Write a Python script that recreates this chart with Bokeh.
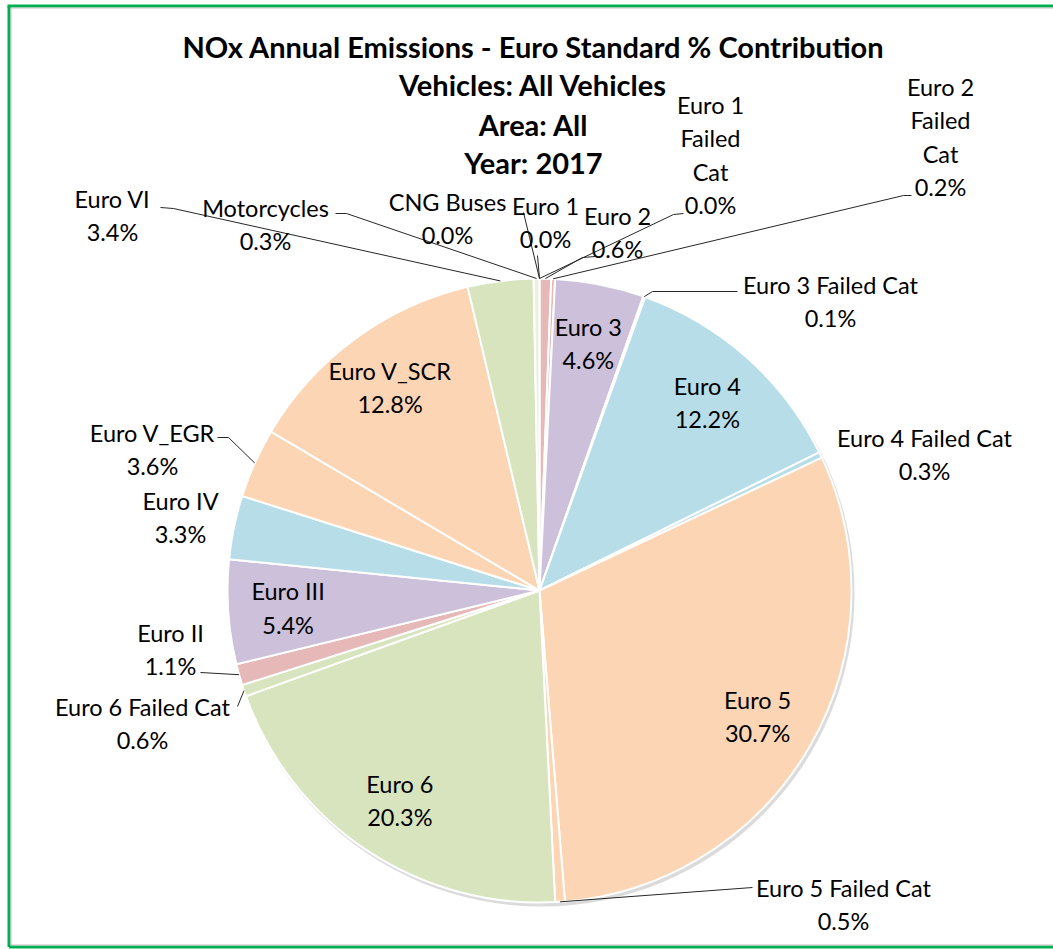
import math
from bokeh.plotting import figure
from bokeh.models import Range1d, ColumnDataSource
from bokeh.core.properties import value
from bokeh.embed import file_html
from bokeh.resources import INLINE

# ---------------- data ----------------
title_lines = ["NOx Annual Emissions - Euro Standard % Contribution",
               "Vehicles: All Vehicles", "Area: All", "Year: 2017"]
categories = ["Euro 1", "Euro 1 Failed Cat", "Euro 2", "Euro 2 Failed Cat", "Euro 3",
              "Euro 3 Failed Cat", "Euro 4", "Euro 4 Failed Cat", "Euro 5", "Euro 5 Failed Cat",
              "Euro 6", "Euro 6 Failed Cat", "Euro II", "Euro III", "Euro IV", "Euro V_EGR",
              "Euro V_SCR", "Euro VI", "Motorcycles", "CNG Buses"]
shares = [0.0, 0.0, 0.6, 0.2, 4.6, 0.1, 12.2, 0.3, 30.7, 0.5,
          20.3, 0.6, 1.1, 5.4, 3.3, 3.6, 12.8, 3.4, 0.3, 0.0]

# ---------------- style / layout ----------------
PINK, LAV, AQUA, PEACH, GREEN = "#E6B9B8", "#CCC0DA", "#B7DEE8", "#FCD5B5", "#D7E4BD"
colors = ["#C6D9F1", PINK, PINK, PINK, LAV, LAV, AQUA, AQUA, PEACH, PEACH,
          GREEN, GREEN, PINK, LAV, AQUA, PEACH, PEACH, GREEN, "#EBF1DE", "#DCE6F2"]

W, H = 1053, 949
X0, Y0 = 0, 0            # data coords == screen pixel coords
def Y(py):               # screen y -> data y
    return (Y0 + H) - py

CX, CY, R = 539, 590, 312
FONT = "Lato"
FS = "23.5px"

inside = {"Euro 3", "Euro 4", "Euro 5", "Euro 6", "Euro III", "Euro V_SCR"}
# outside label: (center x, first line center y), lines, leader anchor points
outside = {
    "Euro 1": ((545, 205), ["Euro 1"], [(537, 255)]),
    "Euro 1 Failed Cat": ((710, 104), ["Euro 1", "Failed", "Cat"], [(683, 213), (673, 214)]),
    "Euro 2": ((617, 215), ["Euro 2"], [(595, 256), (582, 257)]),
    "Euro 2 Failed Cat": ((940, 86), ["Euro 2", "Failed", "Cat"], [(911, 195), (903, 195)]),
    "Euro 3 Failed Cat": ((830, 284), ["Euro 3 Failed Cat"], [(737, 291), (652, 291)]),
    "Euro 4 Failed Cat": ((924, 437), ["Euro 4 Failed Cat"], []),
    "Euro 5 Failed Cat": ((843, 887), ["Euro 5 Failed Cat"], [(752, 887)]),
    "Euro 6 Failed Cat": ((142, 706), ["Euro 6 Failed Cat"], [(237, 706)]),
    "Euro II": ((170, 632), ["Euro II"], [(200, 672)]),
    "Euro IV": ((180, 500), ["Euro IV"], []),
    "Euro V_EGR": ((152, 432), ["Euro V_EGR"], [(217, 437), (228, 437)]),
    "Euro VI": ((112, 198), ["Euro VI"], [(160, 207), (173, 208)]),
    "Motorcycles": ((265, 207), ["Motorcycles"], [(335, 213), (346, 213)]),
    "CNG Buses": ((447, 201), ["CNG Buses"], [(523, 212)]),
}
LINE_H = 33.5

# ---------------- figure ----------------
p = figure(width=W, height=H, output_backend="svg", toolbar_location=None,
           x_range=Range1d(X0, X0 + W), y_range=Range1d(0, H),
           x_axis_type=None, y_axis_type=None, min_border=0)
p.grid.visible = False
p.outline_line_color = None
p.background_fill_color = "white"

# frame
p.segment(x0=[8.5, 8.5], y0=[Y(5.5), Y(946.5)], x1=[8.5, 1053], y1=[Y(946.5), Y(946.5)],
          line_color="#00B050", line_width=3)
p.segment(x0=[7], y0=[Y(5.5)], x1=[1053], y1=[Y(5.5)], line_color="#00B050", line_width=3)
p.segment(x0=[10.5, 10.5], y0=[Y(7.5), Y(944.5)], x1=[10.5, 1053], y1=[Y(944.5), Y(944.5)],
          line_color="#BFBFBF", line_width=1)
p.segment(x0=[10.5], y0=[Y(7.5)], x1=[1053], y1=[Y(7.5)], line_color="#BFBFBF", line_width=1)

# shadow
p.circle(x=[CX + 2], y=[Y(CY + 3)], radius=R + 1, fill_color="#999999",
         fill_alpha=0.35, line_color=None)

# wedges
total = sum(shares)
cum = 0.0
ws, we, wc, mids = [], [], [], []
for v, c in zip(shares, colors):
    a0 = cum / total * 2 * math.pi
    cum += v
    a1 = cum / total * 2 * math.pi
    mids.append((a0 + a1) / 2)
    if v > 0:
        ws.append(math.pi / 2 - a0)
        we.append(math.pi / 2 - a1)
        wc.append(c)
src = ColumnDataSource(dict(s=ws, e=we, c=wc, x=[CX] * len(ws), y=[Y(CY)] * len(ws)))
p.wedge(x="x", y="y", radius=R, start_angle="s", end_angle="e", direction="clock",
        fill_color="c", line_color="white", line_width=2, source=src)

# labels
tx, ty, tt = [], [], []
lx, ly = [], []
for name, v, m in zip(categories, shares, mids):
    pct = f"{v:.1f}%"
    if name in inside:
        r = 252
        px = CX + r * math.sin(m)
        py = CY - r * math.cos(m)
        tx += [px, px]
        ty += [Y(py - LINE_H / 2), Y(py + LINE_H / 2)]
        tt += [name, pct]
    else:
        (ox, oy), lines, anchors = outside[name]
        for i, ln in enumerate(lines + [pct]):
            tx.append(ox)
            ty.append(Y(oy + i * LINE_H))
            tt.append(ln)
        if anchors:
            ex = CX + R * math.sin(m)
            ey = CY - R * math.cos(m)
            pts = anchors + [(ex, ey)]
            lx.append([q[0] for q in pts])
            ly.append([Y(q[1]) for q in pts])

p.multi_line(xs=lx, ys=ly, line_color="#262626", line_width=1)
p.text(x=tx, y=ty, text=tt, text_align="center", text_baseline="middle",
       text_font=value(FONT), text_font_size=FS, text_color="#000000")

# title
tys = [46, 84, 124, 162]
p.text(x=[533] * 4, y=[Y(v) for v in tys], text=title_lines, text_align="center",
       text_baseline="middle", text_font=value(FONT), text_font_size="29px",
       text_font_style="bold", text_color="#000000")

open("out.html", "w").write(file_html(p, INLINE))
